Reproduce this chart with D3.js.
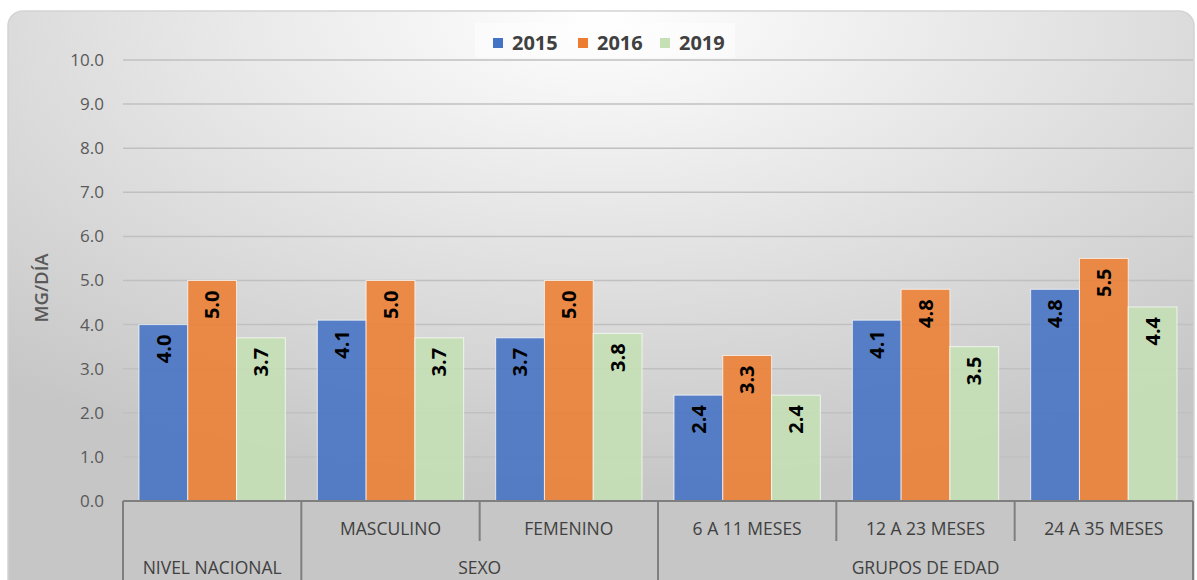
<!DOCTYPE html>
<html>
<head>
<meta charset="utf-8">
<script src="https://cdn.jsdelivr.net/npm/d3@7"></script>
<style>
  body { margin: 0; background: #fff; }
  svg { display: block; font-family: "Open Sans", sans-serif; }
</style>
</head>
<body>
<div id="chart"></div>
<script>
var categories = ["NIVEL NACIONAL", "MASCULINO", "FEMENINO", "6 A 11 MESES", "12 A 23 MESES", "24 A 35 MESES"];
var groups = [
  { name: "", from: 0, to: 0 },
  { name: "SEXO", from: 1, to: 2 },
  { name: "GRUPOS DE EDAD", from: 3, to: 5 }
];
var years = ["2015", "2016", "2019"];
var values2015 = [4.0, 4.1, 3.7, 2.4, 4.1, 4.8];
var values2016 = [5.0, 5.0, 5.0, 3.3, 4.8, 5.5];
var values2019 = [3.7, 3.7, 3.8, 2.4, 3.5, 4.4];
var yTicks = [0, 1, 2, 3, 4, 5, 6, 7, 8, 9, 10];
var colors = ["#4472C4", "#ED7D31", "#C5E0B4"];

var svgWidth = 1197;
var svgHeight = 580;
var margin = { top: 60, right: 4, bottom: 79, left: 123 };
var width = svgWidth - margin.left - margin.right;
var height = svgHeight - margin.top - margin.bottom;

var seriesValues = [values2015, values2016, values2019];
var data = categories.map(function(c, i) {
  return { cat: c, vals: years.map(function(y, j) { return { year: y, value: seriesValues[j][i], idx: j }; }) };
});

var svg = d3.select("#chart")
  .append("svg")
  .attr("width", svgWidth)
  .attr("height", svgHeight);

// background panel
var defs = svg.append("defs");
var grad = defs.append("radialGradient")
  .attr("id", "bg")
  .attr("cx", "50%").attr("cy", "0%")
  .attr("r", "80%");
grad.append("stop").attr("offset", "0%").attr("stop-color", "#ffffff");
grad.append("stop").attr("offset", "100%").attr("stop-color", "#c6c6c6");

svg.append("rect")
  .attr("x", 8).attr("y", 11)
  .attr("width", 1186).attr("height", 600)
  .attr("rx", 15)
  .attr("fill", "url(#bg)")
  .attr("stroke", "#d4d4d4")
  .attr("stroke-width", 1.5);

var chartGroup = svg.append("g")
  .attr("transform", `translate(${margin.left}, ${margin.top})`);

var x0 = d3.scaleBand()
  .domain(categories)
  .range([0, width]);
var x1 = d3.scaleBand()
  .domain(years)
  .range([16, x0.bandwidth() - 16]);
var y = d3.scaleLinear()
  .domain([0, 10])
  .range([height, 0]);

// gridlines
chartGroup.append("g")
  .selectAll("line")
  .data(yTicks.slice(1))
  .enter()
  .append("line")
  .attr("x1", 0)
  .attr("x2", width)
  .attr("y1", d => y(d))
  .attr("y2", d => y(d))
  .attr("stroke", "#c0c0c0")
  .attr("stroke-width", 1.5);

// y axis labels
var leftAxis = d3.axisLeft(y)
  .tickValues(yTicks)
  .tickFormat(d3.format(".1f"))
  .tickSize(0)
  .tickPadding(19);
var yAxisG = chartGroup.append("g").call(leftAxis);
yAxisG.select(".domain").remove();
yAxisG.selectAll("text")
  .attr("fill", "#595959")
  .attr("font-size", 17)
  .attr("font-family", "Open Sans, sans-serif");

// bars
var catGroups = chartGroup.selectAll(".cat")
  .data(data)
  .enter()
  .append("g")
  .attr("class", "cat")
  .attr("transform", d => `translate(${x0(d.cat)}, 0)`);

catGroups.selectAll("rect")
  .data(d => d.vals)
  .enter()
  .append("rect")
  .attr("x", d => x1(d.year))
  .attr("y", d => y(d.value))
  .attr("width", x1.bandwidth())
  .attr("height", d => height - y(d.value))
  .attr("fill", d => colors[d.idx])
  .attr("fill-opacity", 0.88)
  .attr("stroke", "#ffffff")
  .attr("stroke-opacity", 0.7)
  .attr("stroke-width", 1);

// value labels
catGroups.selectAll(".lbl")
  .data(d => d.vals)
  .enter()
  .append("text")
  .attr("class", "lbl")
  .attr("transform", d => `translate(${x1(d.year) + x1.bandwidth() / 2}, ${y(d.value) + 10}) rotate(-90)`)
  .attr("text-anchor", "end")
  .attr("dy", "0.36em")
  .attr("font-size", 20)
  .attr("font-weight", "bold")
  .attr("fill", "#000")
  .text(d => d3.format(".1f")(d.value));

// multi-level category axis
var axisColor = "#7f7f7f";
chartGroup.append("line")
  .attr("x1", 0).attr("x2", width)
  .attr("y1", height).attr("y2", height)
  .attr("stroke", axisColor).attr("stroke-width", 2);

var bounds = d3.range(categories.length + 1);
chartGroup.selectAll(".div")
  .data(bounds)
  .enter()
  .append("line")
  .attr("class", "div")
  .attr("x1", d => d === categories.length ? width : x0(categories[d]))
  .attr("x2", d => d === categories.length ? width : x0(categories[d]))
  .attr("y1", height)
  .attr("y2", function(d) {
    var full = d === 0 || d === categories.length || groups.some(g => g.from === d);
    return full ? height + 100 : height + 40;
  })
  .attr("stroke", axisColor)
  .attr("stroke-width", 2);

// first row labels (categories inside groups)
chartGroup.selectAll(".catlbl")
  .data(categories.filter((c, i) => groups.some(g => g.name !== "" && i >= g.from && i <= g.to)))
  .enter()
  .append("text")
  .attr("class", "catlbl")
  .attr("x", d => x0(d) + x0.bandwidth() / 2)
  .attr("y", height + 34)
  .attr("text-anchor", "middle")
  .attr("font-size", 17.5)
  .attr("fill", "#404040")
  .text(d => d);

// second row labels
chartGroup.selectAll(".grplbl")
  .data(groups)
  .enter()
  .append("text")
  .attr("class", "grplbl")
  .attr("x", d => (x0(categories[d.from]) + x0(categories[d.to]) + x0.bandwidth()) / 2)
  .attr("y", height + 73)
  .attr("text-anchor", "middle")
  .attr("font-size", 17.5)
  .attr("fill", "#404040")
  .text(d => d.name === "" ? categories[d.from] : d.name);

// y axis title
svg.append("text")
  .attr("transform", "translate(42, 288) rotate(-90)")
  .attr("text-anchor", "middle")
  .attr("dy", "0.35em")
  .attr("font-size", 18.5)
  .attr("font-weight", 600)
  .attr("fill", "#595959")
  .text("MG/DÍA");

// legend
var legend = svg.append("g").attr("transform", "translate(475, 23)");
legend.append("rect")
  .attr("width", 260).attr("height", 35)
  .attr("fill", "#ffffff").attr("fill-opacity", 0.45);
var legendX = [18, 103, 185];
var items = legend.selectAll(".item")
  .data(years)
  .enter()
  .append("g")
  .attr("class", "item")
  .attr("transform", (d, i) => `translate(${legendX[i]}, 0)`);
items.append("rect")
  .attr("y", 15).attr("width", 10).attr("height", 10)
  .attr("fill", (d, i) => colors[i]);
items.append("text")
  .attr("x", 19).attr("y", 20)
  .attr("dy", "0.35em")
  .attr("font-size", 20)
  .attr("font-weight", "bold")
  .attr("fill", "#404040")
  .text(d => d);
</script>
</body>
</html>
